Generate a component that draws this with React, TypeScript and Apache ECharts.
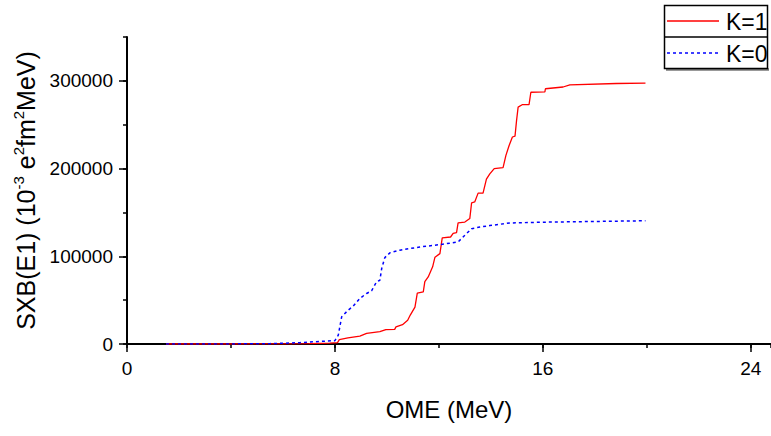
import React, { useEffect, useRef } from "react";
import * as echarts from "echarts";

// Excitation energy (MeV) and cumulative SXB(E1) values
const k1Energy = [1.5, 4, 6, 7, 7.8, 8.1, 8.17, 8.5, 8.96, 9.22, 9.73, 9.96, 10.3, 10.35, 10.6, 10.8, 10.9, 11.08, 11.17, 11.4, 11.46, 11.59, 11.76, 11.85, 12.04, 12.13, 12.45, 12.55, 12.68, 12.74, 13.0, 13.19, 13.26, 13.38, 13.51, 13.7, 13.83, 13.96, 14.13, 14.47, 14.58, 14.7, 14.83, 14.93, 14.99, 15.05, 15.22, 15.47, 15.54, 16.08, 16.1, 16.78, 17.04, 18.83, 19.95];
const k1Values = [0, 0, 200, 500, 1000, 1500, 5000, 7000, 9000, 12000, 14000, 16500, 16700, 19500, 22000, 27000, 33000, 42000, 58000, 59500, 71000, 76500, 88000, 99000, 103000, 121000, 122000, 126000, 127000, 138000, 139000, 143000, 161000, 162000, 172000, 172000, 188000, 194000, 200000, 201000, 215000, 226000, 236000, 237000, 255000, 270000, 273000, 273000, 287000, 287500, 291000, 293000, 295500, 297000, 297500];

const k0Energy = [1.5, 4, 5.5, 6.65, 7.2, 8.0, 8.13, 8.26, 8.51, 8.7, 8.96, 9.22, 9.41, 9.6, 9.73, 9.8, 9.92, 10.12, 10.5, 11.27, 12.04, 12.74, 13.0, 13.26, 13.58, 13.96, 14.73, 16.27, 18.19, 19.95];
const k0Values = [0, 100, 400, 1500, 2600, 3800, 10000, 31000, 38600, 43000, 52000, 57600, 60600, 70800, 72700, 86000, 98500, 104000, 107000, 110600, 113300, 116300, 124000, 131500, 133300, 135000, 138000, 139000, 139800, 140500];

const xMajorTicks = [0, 8, 16, 24];
const yMajorTicks = [0, 100000, 200000, 300000];
const seriesNames = ["K=1", "K=0"];

const tickFont = "'Liberation Sans', Arial, sans-serif";
const titleFont = "'Liberation Sans', Arial, sans-serif";

export default function App() {
  const ref = useRef<HTMLDivElement>(null);
  useEffect(() => {
    if (!ref.current) return;
    const chart = echarts.init(ref.current, undefined, { renderer: "svg" });
    const k1 = k1Energy.map((x, i) => [x, k1Values[i]]);
    const k0 = k0Energy.map((x, i) => [x, k0Values[i]]);
    const axisLine = { show: true, lineStyle: { color: "#000", width: 2 } };
    const plain = (v: number) => String(v);
    chart.setOption({
      animation: false,
      backgroundColor: "#fff",
      grid: { left: 127, right: 0, top: 37, bottom: 92 },
      xAxis: [
        {
          type: "value",
          min: 0,
          max: 24.78,
          interval: 8,
          name: "OME (MeV)",
          nameLocation: "middle",
          nameGap: 51,
          nameTextStyle: { fontFamily: titleFont, fontSize: 24, color: "#000", lineHeight: 28 },
          axisLine,
          axisTick: { show: true, inside: false, length: 8, customValues: xMajorTicks, lineStyle: { color: "#000", width: 1.5 } },
          axisLabel: { customValues: xMajorTicks, margin: 15, fontFamily: tickFont, fontSize: 19, color: "#000", formatter: plain },
          splitLine: { show: false },
        },
        {
          type: "value",
          min: 0,
          max: 24.78,
          interval: 4,
          position: "bottom",
          axisLine: { show: false },
          axisTick: { show: true, inside: false, length: 4, lineStyle: { color: "#000", width: 1.5 } },
          axisLabel: { show: false },
          splitLine: { show: false },
        },
      ],
      yAxis: [
        {
          type: "value",
          min: 0,
          max: 350000,
          interval: 100000,
          name: "{a|SXB(E1) (10}{s|-3}{a| e}{s|2}{a|fm}{s|2}{a|MeV)}",
          nameLocation: "middle",
          nameGap: 87,
          nameTextStyle: {
            rich: {
              a: { fontFamily: titleFont, fontSize: 25, color: "#000", lineHeight: 29 },
              s: { fontFamily: titleFont, fontSize: 15, color: "#000", lineHeight: 15, verticalAlign: "top" },
            },
          },
          axisLine,
          axisTick: { show: true, inside: false, length: 8, customValues: yMajorTicks, lineStyle: { color: "#000", width: 1.5 } },
          axisLabel: { customValues: yMajorTicks, margin: 14, fontFamily: tickFont, fontSize: 19, color: "#000", formatter: plain },
          splitLine: { show: false },
        },
        {
          type: "value",
          min: 0,
          max: 350000,
          interval: 50000,
          position: "left",
          axisLine: { show: false },
          axisTick: { show: true, inside: false, length: 4, lineStyle: { color: "#000", width: 1.5 } },
          axisLabel: { show: false },
          splitLine: { show: false },
        },
      ],
      series: [
        {
          name: seriesNames[0],
          type: "line",
          data: k1,
          showSymbol: false,
          lineStyle: { color: "#ff0000", width: 1.3 },
          itemStyle: { color: "#ff0000" },
          z: 3,
        },
        {
          name: seriesNames[1],
          type: "line",
          data: k0,
          showSymbol: false,
          lineStyle: { color: "#0000ff", width: 1.5, type: [3, 3] },
          itemStyle: { color: "#0000ff" },
          z: 4,
        },
      ],
      graphic: [
        { type: "line", shape: { x1: 666, y1: 69.5, x2: 769, y2: 69.5 }, style: { stroke: "#777", lineWidth: 2.5 } },
        { type: "rect", shape: { x: 664.5, y: 5.5, width: 103, height: 63 }, style: { fill: "#fff", stroke: "#000", lineWidth: 1.5 } },
        { type: "line", shape: { x1: 664.5, y1: 37, x2: 767.5, y2: 37 }, style: { stroke: "#000", lineWidth: 1.5 } },
        { type: "line", shape: { x1: 667, y1: 21, x2: 719, y2: 21 }, style: { stroke: "#ff0000", lineWidth: 1.3 } },
        { type: "line", shape: { x1: 667, y1: 53, x2: 719, y2: 53 }, style: { stroke: "#0000ff", lineWidth: 1.5, lineDash: [3, 3] } },
        { type: "text", x: 726, y: 22, style: { text: seriesNames[0], fontFamily: titleFont, fontSize: 23, fill: "#000", verticalAlign: "middle" } },
        { type: "text", x: 726, y: 54, style: { text: seriesNames[1], fontFamily: titleFont, fontSize: 23, fill: "#000", verticalAlign: "middle" } },
      ],
    });
    return () => chart.dispose();
  }, []);
  return <div ref={ref} style={{ position: "fixed", left: 0, top: 0, width: 771, height: 436 }} />;
}
